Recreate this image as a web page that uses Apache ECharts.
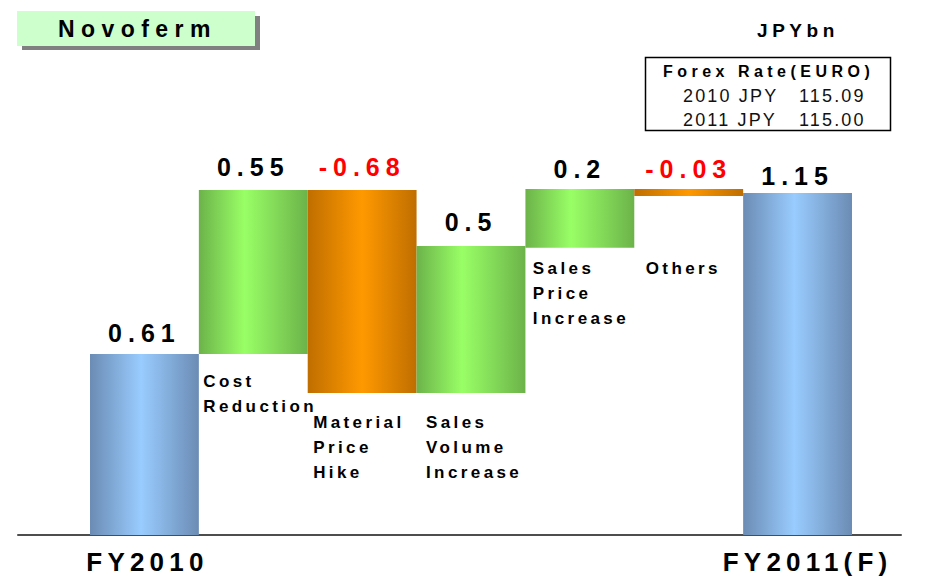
<!DOCTYPE html>
<html>
<head>
<meta charset="utf-8">
<script src="https://cdn.jsdelivr.net/npm/echarts@6/dist/echarts.min.js"></script>
<style>
    html, body { margin: 0; padding: 0; background: #fff; }
    #main { width: 944px; height: 577px; }
    /* the original deck uses widely tracked text */
    #main text[style*="bold"], #main text[font-weight="bold"] { letter-spacing: 0.24em; }
    #main text[style*="17px"], #main text[style*="26px"] { letter-spacing: 0.2em; }
    #main text[style*="23px"], #main text[style*="16px"] { letter-spacing: 0.28em; }
    #main text:not([style*="bold"]):not([font-weight="bold"]) { letter-spacing: 0.12em; }
</style>
</head>
<body>
<div id="main"></div>
<script>
    var categories = ['FY2010', 'Cost\nReduction', 'Material\nPrice\nHike', 'Sales\nVolume\nIncrease', 'Sales\nPrice\nIncrease', 'Others', 'FY2011(F)'];
    var deltas = [0.61, 0.55, -0.68, 0.5, 0.2, -0.03, 1.15];
    var barKind = ['total', 'up', 'down', 'up', 'up', 'down', 'total'];
    // bar extents (it is not drawn exactly to scale)
    var barLow = [0, 0.61, 0.479, 0.479, 0.968, 1.143, 0];
    var barHigh = [0.61, 1.163, 1.163, 0.974, 1.166, 1.166, 1.153];
    // height where each step's name starts
    var nameY = ['-', 0.561, 0.423, 0.423, 0.939, 0.939, '-'];
    var forexYears = ['2010 JPY', '2011 JPY'];
    var forexRates = ['115.09', '115.00'];
    var company = 'Novoferm';
    var unit = 'JPYbn';
    var forexTitle = 'Forex Rate(EURO)';

    var FONT = '"Liberation Sans", Arial, sans-serif';

    function grad(edge, mid, at) {
        return new echarts.graphic.LinearGradient(0, 0, 1, 0, [
            {offset: 0, color: edge},
            {offset: at, color: mid},
            {offset: 1, color: edge}
        ]);
    }
    var kindColor = {
        total: grad('#6b8cb4', '#99ccff', 0.47),
        up: grad('#6cb34a', '#99ff66', 0.42),
        down: grad('#bf6e00', '#ff9900', 0.5)
    };
    // small per-label nudges, the slide is laid out by hand
    var nameDx = [0, -50, -49, -45, -47, -43, 0];
    var valueGap = [9, 10.5, 10.5, 11.5, 7.5, 7.5, 4.5];

    var stepData = deltas.map(function (d, i) {
        return {
            value: +(barHigh[i] - barLow[i]).toFixed(3),
            itemStyle: {color: kindColor[barKind[i]]},
            label: {color: d < 0 ? '#ff0000' : '#000', distance: valueGap[i]}
        };
    });
    var nameData = nameY.map(function (y, i) {
        return {value: y, label: {offset: [nameDx[i], 0]}};
    });

    var graphics = [
        {type: 'rect', shape: {x: 22, y: 16, width: 238, height: 34}, style: {fill: '#808080'}},
        {type: 'rect', shape: {x: 17, y: 11, width: 238, height: 35}, style: {fill: '#ccffcc'}},
        {type: 'text', style: {text: company, x: 58, y: 29, font: 'bold 23px ' + FONT, fill: '#000', verticalAlign: 'middle'}},
        {type: 'text', style: {text: unit, x: 757, y: 30, font: 'bold 19px ' + FONT, fill: '#000', verticalAlign: 'middle'}},
        {type: 'rect', shape: {x: 645.5, y: 57.5, width: 245, height: 73}, style: {fill: '#fff', stroke: '#000', lineWidth: 1.5}},
        {type: 'text', style: {text: forexTitle, x: 663, y: 71, font: 'bold 16px ' + FONT, fill: '#000', verticalAlign: 'middle'}}
    ];
    forexYears.forEach(function (yr, i) {
        graphics.push({type: 'text', style: {text: yr, x: 683, y: 96 + 23.5 * i, font: '18px ' + FONT, fill: '#111', verticalAlign: 'middle'}});
        graphics.push({type: 'text', style: {text: forexRates[i], x: 799, y: 96 + 23.5 * i, font: '18px ' + FONT, fill: '#111', verticalAlign: 'middle'}});
    });

    var axisFont = {fontSize: 26, fontWeight: 'bold', color: '#000', fontFamily: FONT, lineHeight: 20};

    var option = {
        animation: false,
        backgroundColor: '#fff',
        textStyle: {fontFamily: FONT},
        grid: [
            {left: 90, right: 92, top: 90, bottom: 42},
            {left: 18, right: 43, top: 90, bottom: 42}
        ],
        xAxis: [
            {
                gridIndex: 0,
                type: 'category',
                data: categories,
                axisLine: {show: false},
                axisTick: {show: false},
                axisLabel: {
                    interval: 0,
                    margin: 17,
                    fontSize: 26,
                    fontWeight: 'bold',
                    color: '#000',
                    fontFamily: FONT,
                    lineHeight: 20,
                    rich: {
                        a: Object.assign({padding: [0, 0, 0, 6]}, axisFont),
                        b: Object.assign({padding: [0, 0, 0, 20]}, axisFont)
                    },
                    formatter: function (v, i) {
                        if (i === 0) return '{a|' + v + '}';
                        if (i === categories.length - 1) return '{b|' + v + '}';
                        return '';
                    }
                }
            },
            {
                gridIndex: 1,
                type: 'category',
                data: [''],
                axisLine: {lineStyle: {color: '#4d4d4d', width: 2}},
                axisTick: {show: false},
                axisLabel: {show: false}
            }
        ],
        yAxis: [
            {gridIndex: 0, type: 'value', min: 0, max: 1.5, show: false},
            {gridIndex: 1, type: 'value', show: false}
        ],
        graphic: graphics,
        series: [
            {
                name: 'base',
                type: 'bar',
                stack: 'w',
                barCategoryGap: '0%',
                silent: true,
                itemStyle: {color: 'transparent'},
                data: barLow
            },
            {
                name: 'step',
                type: 'bar',
                stack: 'w',
                barCategoryGap: '0%',
                label: {
                    show: true,
                    position: 'top',
                    fontSize: 25,
                    fontWeight: 'bold',
                    fontFamily: FONT,
                    formatter: function (p) { return String(deltas[p.dataIndex]); }
                },
                data: stepData
            },
            {
                name: 'names',
                type: 'scatter',
                symbolSize: 1,
                silent: true,
                itemStyle: {color: 'transparent', opacity: 1},
                label: {
                    show: true,
                    opacity: 1,
                    position: 'inside',
                    align: 'left',
                    verticalAlign: 'top',
                    fontSize: 17,
                    lineHeight: 25,
                    fontWeight: 'bold',
                    fontFamily: FONT,
                    color: '#000',
                    textBorderWidth: 0,
                    textBorderColor: 'transparent',
                    formatter: function (p) { return categories[p.dataIndex]; }
                },
                data: nameData
            }
        ]
    };

    var myChart = echarts.init(document.getElementById('main'), null, {renderer: 'svg'});
    myChart.setOption(option);
</script>
</body>
</html>
